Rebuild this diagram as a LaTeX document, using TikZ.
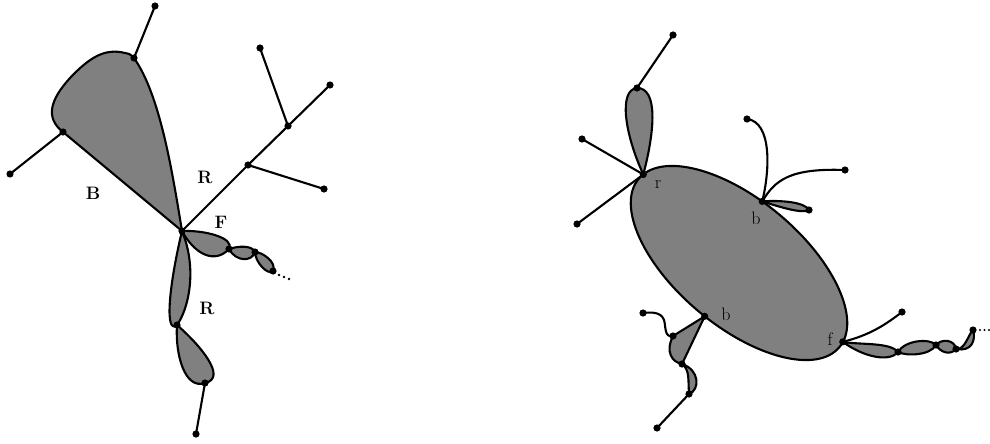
\documentclass[tikz,border=0pt]{standalone}
\begin{document}
\begin{tikzpicture}[x=1pt,y=-1pt,
  lobe/.style={draw=black, fill=gray, line width=2.1pt, line join=round},
  edge/.style={draw=black, line width=2.1pt, line cap=round},
  capl/.style={font=\fontsize{18}{21}\selectfont\bfseries, inner sep=0pt},
  lowl/.style={font=\fontsize{18}{21}\selectfont, inner sep=0pt}]
\useasboundingbox (0,0) rectangle (990,444);
% ---------- left figure: coordinates ----------
\coordinate (c0) at (182,231);
\coordinate (bL) at (63,132);
\coordinate (bT) at (134,58);
\coordinate (eL1) at (10,174);
\coordinate (eT1) at (155,6);
\coordinate (t1) at (248,165);
\coordinate (t2) at (288,126);
\coordinate (t3) at (330,85);
\coordinate (t4) at (324,189);
\coordinate (t5) at (260,48);
\coordinate (f1) at (229,249);
\coordinate (f2) at (255,252);
\coordinate (f3) at (273,271);
\coordinate (d1) at (177,325);
\coordinate (d2) at (205,383);
\coordinate (d3) at (196,434);
% ---------- left figure: shapes ----------
\path[lobe] (c0) -- (bL) .. controls (45,118) and (50,100) .. (70,78)
  .. controls (90,57) and (105,48) .. (125,53) .. controls (130,54) .. (bT)
  .. controls (160,95) and (172,170) .. (c0) -- cycle;
\path[lobe] (c0) .. controls (205,230) and (235,238) .. (f1)
  .. controls (215,264) and (195,255) .. (c0) -- cycle;
\path[lobe] (f1) .. controls (238,246) and (252,245) .. (f2)
  .. controls (252,262) and (236,262) .. (f1) -- cycle;
\path[lobe] (f2) .. controls (262,252) and (277,262) .. (f3)
  .. controls (268,276) and (255,262) .. (f2) -- cycle;
\path[lobe] (c0) .. controls (198,270) and (188,310) .. (d1)
  .. controls (165,335) and (168,290) .. (c0) -- cycle;
\path[lobe] (d1) .. controls (200,345) and (228,378) .. (d2)
  .. controls (185,390) and (175,355) .. (d1) -- cycle;
\path[edge] (bL) -- (eL1);
\path[edge] (bT) -- (eT1);
\path[edge] (c0) -- (t1) -- (t2) -- (t3);
\path[edge] (t1) -- (t4);
\path[edge] (t2) -- (t5);
\path[edge] (d2) -- (d3);
\foreach \p in {c0,bL,bT,eL1,eT1,t1,t2,t3,t4,t5,f1,f2,f3,d1,d2,d3}
  \fill (\p) circle[radius=3.6];
\foreach \q in {(279,275),(284,277),(289,279)} \fill \q circle[radius=1.3];
\node[capl] (labB) at (93,193) {B};
\node[capl] (labR1) at (205,177) {R};
\node[capl] (labF) at (221,222) {F};
\node[capl] (labR2) at (207,308) {R};
% ---------- right figure ----------
\begin{scope}[shift={(739,263)}, rotate=-40]
  \path[lobe] (0,0) ellipse [x radius=131, y radius=63];
  \coordinate (r) at (-130.2,-6.3);
  \coordinate (ff) at (130.2,-6.3);
  \coordinate (bt) at (-21.8,-62.1);
  \coordinate (bb) at (8,62.9);
\end{scope}
\coordinate (rt) at (637,88);
\coordinate (e1) at (673,35);
\coordinate (e2) at (582,139);
\coordinate (e3) at (577,224);
\coordinate (e5) at (747,119);
\coordinate (e6) at (845,170);
\coordinate (bl) at (809,210);
\coordinate (n1) at (673,336);
\coordinate (n2) at (682,364);
\coordinate (n3) at (689,394);
\coordinate (e7) at (643,313);
\coordinate (e9) at (657,428);
\coordinate (e8) at (902,312);
\coordinate (g1) at (898,352);
\coordinate (g2) at (936,345);
\coordinate (g3) at (956,349);
\coordinate (g4) at (973,330);
\path[lobe] (r) .. controls (625,135) and (618,90) .. (rt)
  .. controls (658,88) and (655,130) .. (r) -- cycle;
\path[edge] (r) -- (e2);
\path[edge] (r) -- (e3);
\path[edge] (rt) -- (e1);
\path[edge] (bt) .. controls (770,170) and (772,122) .. (e5);
\path[edge] (bt) .. controls (775,180) and (790,168) .. (e6);
\path[lobe] (bt) .. controls (780,200) and (805,202) .. (bl)
  .. controls (802,214) and (780,207) .. (bt) -- cycle;
\path[lobe] (bb) -- (n1) .. controls (665,352) and (672,362) .. (n2) -- (bb) -- cycle;
\path[edge] (n1) .. controls (664,338) and (666,326) .. (664,320)
  .. controls (661,312) and (652,312) .. (e7);
\path[lobe] (n2) .. controls (700,370) and (700,390) .. (n3)
  .. controls (688,380) and (690,370) .. (n2) -- cycle;
\path[edge] (n3) -- (e9);
\path[edge] (ff) .. controls (870,335) and (885,325) .. (e8);
\path[lobe] (ff) .. controls (860,345) and (890,342) .. (g1)
  .. controls (890,362) and (865,358) .. (ff) -- cycle;
\path[lobe] (g1) .. controls (905,340) and (930,338) .. (g2)
  .. controls (930,356) and (905,356) .. (g1) -- cycle;
\path[lobe] (g2) .. controls (942,338) and (955,340) .. (g3)
  .. controls (950,356) and (940,352) .. (g2) -- cycle;
\path[lobe] (g3) .. controls (965,350) and (968,335) .. (g4)
  .. controls (976,340) and (972,352) .. (g3) -- cycle;
\foreach \p in {r,ff,bt,bb,rt,e1,e2,e3,e5,e6,bl,n1,n2,n3,e7,e9,e8,g1,g2,g3,g4}
  \fill (\p) circle[radius=3.6];
\foreach \q in {(980,330),(984.5,330),(989,330)} \fill \q circle[radius=1.2];
\node[lowl] (labr) at (658,185) {r};
\node[lowl] (labb1) at (756,218) {b};
\node[lowl] (labb2) at (726,314) {b};
\node[lowl] (labf) at (830,339) {f};
\end{tikzpicture}
\end{document}
